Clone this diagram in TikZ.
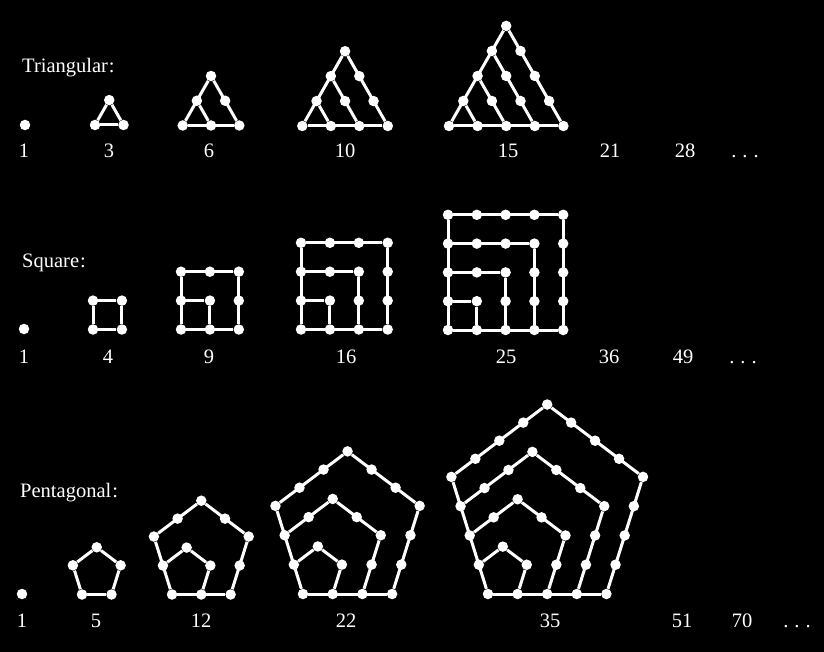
\documentclass[tikz,border=0pt]{standalone}
\usepackage{fontspec}
\setmainfont{Liberation Serif}
\tikzset{
  dot/.style={circle,fill=white,draw=none,inner sep=0pt,minimum size=10.5pt},
  edge/.style={draw=white,line width=3pt},
  lab/.style={text=white,anchor=base,inner sep=0pt,font=\fontsize{20.5}{24}\selectfont},
  ttl/.style={text=white,anchor=base west,inner sep=0pt,font=\fontsize{20.5}{24}\selectfont}
}
% triangular number figure: name, n, x0, y0, spacing
\newcommand\trinum[5]{%
  \pgfmathtruncatemacro\tm{#2-1}%
  \foreach \i in {0,...,\tm}{%
    \pgfmathtruncatemacro\jm{\tm-\i}%
    \foreach \j in {0,...,\jm}{%
      \node[dot] (#1-\i-\j) at ({#3+#5*(\i+\j/2)},{#4-1.01*0.866*#5*\j}) {};
    }%
  }%
  \draw[edge] (#1-0-0) -- (#1-\tm-0);
  \draw[edge] (#1-0-0) -- (#1-0-\tm);
  \foreach \k in {1,...,\tm}{\draw[edge] (#1-0-\k) -- (#1-\k-0);}%
}
% square number figure
\newcommand\sqnum[5]{%
  \pgfmathtruncatemacro\tm{#2-1}%
  \foreach \i in {0,...,\tm}{%
    \foreach \j in {0,...,\tm}{%
      \node[dot] (#1-\i-\j) at ({#3+#5*\i},{#4-#5*\j}) {};
    }%
  }%
  \draw[edge] (#1-0-0) -- (#1-\tm-0);
  \draw[edge] (#1-0-0) -- (#1-0-\tm);
  \foreach \k in {1,...,\tm}{\draw[edge] (#1-0-\k) -- (#1-\k-\k) -- (#1-\k-0);}%
}
% pentagonal number figure
\newcommand\pentnum[5]{%
  \pgfmathtruncatemacro\tm{#2-1}%
  \node[dot] (#1-bl) at (#3,#4) {};
  \foreach \k in {1,...,\tm}{%
    \pgfmathtruncatemacro\km{\k-1}%
    \foreach \m in {0,...,\km}{%
      \node[dot] (#1-\k-1-\m) at ({#3+#5*(\k*(-0.30902)+\m*0.80902)},{#4-1.04*#5*(\k*0.95106+\m*0.58778)}) {};
      \node[dot] (#1-\k-2-\m) at ({#3+#5*(\k*0.5+\m*0.80902)},{#4-1.04*#5*(\k*1.53884-\m*0.58778)}) {};
    }%
    \foreach \m in {0,...,\k}{%
      \node[dot] (#1-\k-3-\m) at ({#3+#5*(\k*1.30902-\m*0.30902)},{#4-1.04*#5*(\k*0.95106-\m*0.95106)}) {};
    }%
  }%
  \draw[edge] (#1-bl) -- (#1-\tm-1-0);
  \draw[edge] (#1-bl) -- (#1-\tm-3-\tm);
  \foreach \k in {1,...,\tm}{\draw[edge] (#1-\k-1-0) -- (#1-\k-2-0) -- (#1-\k-3-0) -- (#1-\k-3-\k);}%
}
\begin{document}
\begin{tikzpicture}[x=1pt,y=-1pt]
\useasboundingbox (0,0) rectangle (824,652);
\fill[black] (0,0) rectangle (824,652);
% ---------- Triangular ----------
\node[ttl] (ttri) at (22,73) {Triangular\kern1pt:};
\node[dot] (t1) at (25,125) {};
\trinum{tb}{2}{95}{125}{28.5}
\trinum{tc}{3}{182.7}{125.5}{28.3}
\trinum{td}{4}{302.3}{126}{28.5}
\trinum{te}{5}{449}{126}{28.6}
\node[lab] (lt1) at (24,158) {1};
\node[lab] (lt3) at (109,158) {3};
\node[lab] (lt6) at (209,158) {6};
\node[lab] (lt10) at (345,158) {10};
\node[lab] (lt15) at (508,158) {15};
\node[lab] (lt21) at (610,158) {21};
\node[lab] (lt28) at (685,158) {28};
\node[lab] (ltd) at (745,158) {.\kern6pt.\kern6pt.};
% ---------- Square ----------
\node[ttl] (tsq) at (22,267) {Square\kern1pt:};
\node[dot] (s1) at (24,329) {};
\sqnum{sb}{2}{93}{329.5}{28.9}
\sqnum{sc}{3}{181}{329.5}{28.9}
\sqnum{sd}{4}{301}{329.5}{28.9}
\sqnum{se}{5}{448}{330}{28.8}
\node[lab] (ls1) at (24,363) {1};
\node[lab] (ls4) at (108,363) {4};
\node[lab] (ls9) at (209,363) {9};
\node[lab] (ls16) at (346,363) {16};
\node[lab] (ls25) at (506,363) {25};
\node[lab] (ls36) at (609,363) {36};
\node[lab] (ls49) at (683,363) {49};
\node[lab] (lsd) at (743,363) {.\kern6pt.\kern6pt.};
% ---------- Pentagonal ----------
\node[ttl] (tpe) at (20,497) {Pentagonal\kern1pt:};
\node[dot] (p1) at (22,594) {};
\pentnum{pb}{2}{82}{594.5}{29.5}
\pentnum{pc}{3}{172}{594.5}{29.3}
\pentnum{pd}{4}{303}{594}{29.7}
\pentnum{pe}{5}{488}{594}{29.6}
\node[lab] (lp1) at (22,627) {1};
\node[lab] (lp5) at (96,627) {5};
\node[lab] (lp12) at (201,627) {12};
\node[lab] (lp22) at (346,627) {22};
\node[lab] (lp35) at (550,627) {35};
\node[lab] (lp51) at (682,627) {51};
\node[lab] (lp70) at (742,627) {70};
\node[lab] (lpd) at (797,627) {.\kern6pt.\kern6pt.};
\end{tikzpicture}
\end{document}
